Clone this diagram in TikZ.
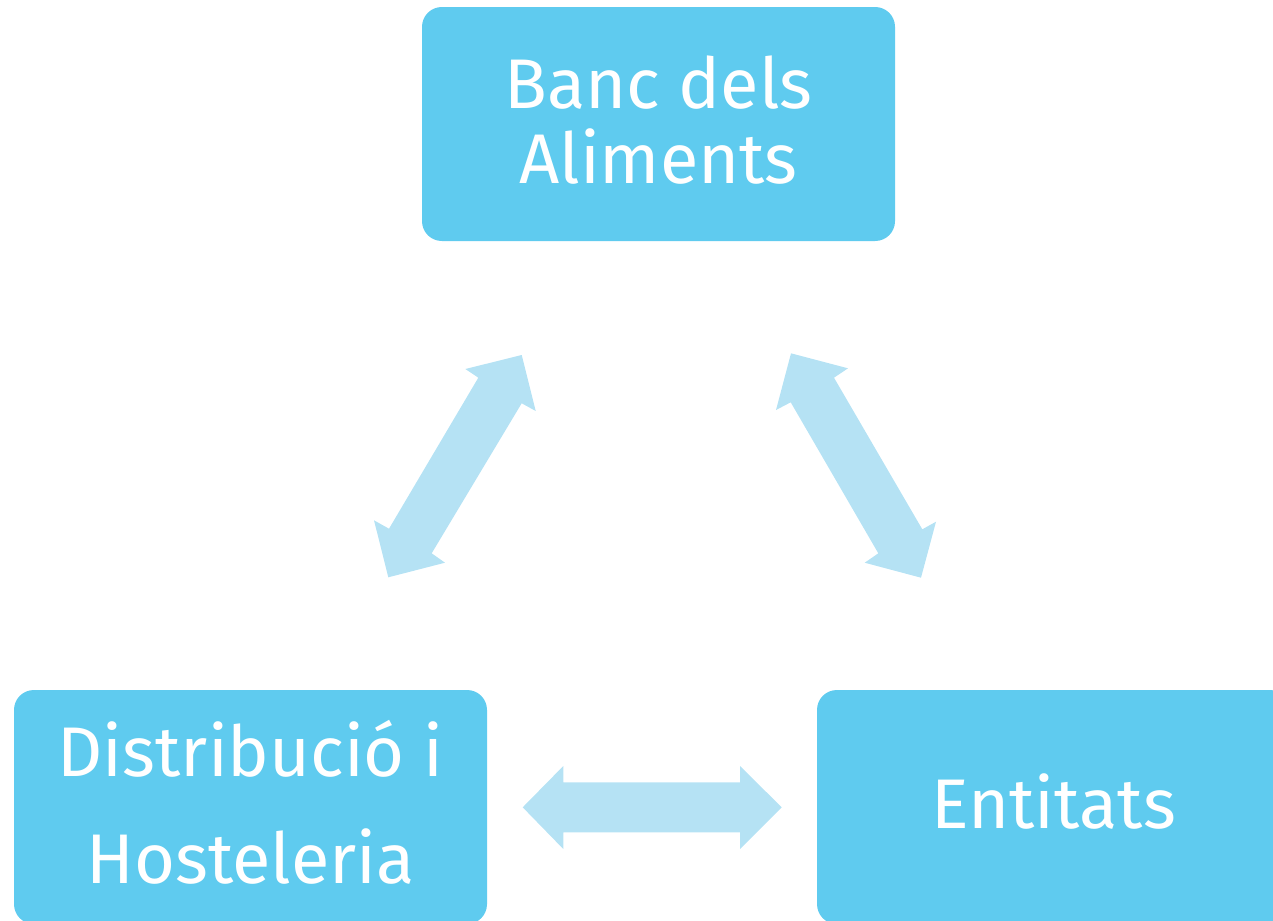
\documentclass[tikz,border=0pt]{standalone}
\usepackage{fontspec}
\setmainfont{Fira Sans}
\definecolor{boxblue}{HTML}{5FCBEF}
\definecolor{arrowblue}{HTML}{B5E2F4}
\begin{document}
\begin{tikzpicture}[x=0.02cm,y=-0.02cm,
  box/.style={fill=boxblue,draw=none,rounded corners=11.3pt,
    minimum width=473*0.02cm,minimum height=234*0.02cm,inner sep=0pt},
  boxtext/.style={text=white,align=center,inner sep=0pt},
  dblarrow/.style={fill=arrowblue,draw=none}]
\useasboundingbox (0,0) rectangle (1273,920);
\clip (0,0) rectangle (1273,920);
\node[box] (banc) at (658.5,124) {};
\node[box] (dist) at (250.5,807) {};
\node[box] (ent) at (1053.5,807) {};
\node[boxtext,font=\fontsize{40}{42.5}\selectfont] (bancT) at ([yshift=2.3pt]banc.center) {Banc dels\\Aliments};
\node[boxtext,font=\fontsize{40}{60.7}\selectfont] (distT) at ([yshift=2.8pt]dist.center) {Distribució i\\Hosteleria};
\node[boxtext,font=\fontsize{40}{42.5}\selectfont] (entT) at ([yshift=3.4pt]ent.center) {Entitats};
% left diagonal arrow
\fill[dblarrow] (521.7,355) -- (535.7,411) -- (521.7,403.3) -- (431.7,553.3) -- (445,562.7)
  -- (388.3,577.3) -- (374,520.3) -- (389,528.7) -- (478.3,377.7) -- (465.3,369) -- cycle;
% right diagonal arrow
\fill[dblarrow] (791,353.3) -- (848,368.3) -- (834,377.7) -- (922.3,529.3) -- (936,521.7)
  -- (921,577.7) -- (864.7,562.7) -- (878.3,553.3) -- (790.7,402.3) -- (776,410) -- cycle;
% horizontal arrow
\fill[dblarrow] (522.7,807.3) -- (563.3,766) -- (563.3,782.3) -- (740,782.3) -- (740,766)
  -- (781.7,807.3) -- (740,849) -- (740,832.3) -- (563.3,832.3) -- (563.3,849) -- cycle;
\end{tikzpicture}
\end{document}
